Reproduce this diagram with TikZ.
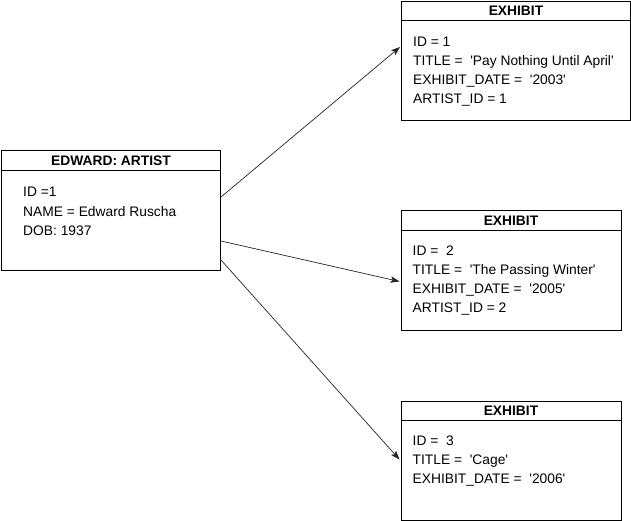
\documentclass[tikz,border=0pt]{standalone}
\usepackage{fontspec}
\setmainfont{Liberation Sans}[Ligatures=TeXOff]
\usetikzlibrary{arrows.meta,calc}
\begin{document}
\begin{tikzpicture}[x=1pt,y=-1pt,
  box/.style={draw=black,line width=1pt,anchor=north west,inner sep=0pt},
  head/.style={font=\fontsize{13.8}{16}\selectfont\bfseries,anchor=base,inner sep=0pt},
  txt/.style={font=\fontsize{13.8}{16}\selectfont,anchor=base west,inner sep=0pt},
  sep/.style={line width=1pt},
  conn/.style={-{Stealth[length=9pt,width=6.5pt,inset=2pt]},line width=0.7pt,draw=black!85}]
\useasboundingbox (0,0) rectangle (631,521);
% artist
\node[box,minimum width=219pt,minimum height=120pt] (art) at (1,150) {};
\draw[sep] ($(art.north west)+(0,21)$) -- ($(art.north east)+(0,21)$);
\node[head] (arth) at ($(art.north)+(0,16)$) {EDWARD: ARTIST};
\node[txt] (art1) at ($(art.north west)+(22,47)$) {ID =1};
\node[txt] (art2) at ($(art.north west)+(22,66.5)$) {NAME = Edward Ruscha};
\node[txt] (art3) at ($(art.north west)+(22,86)$) {DOB: 1937};
% exhibit 1
\node[box,minimum width=229pt,minimum height=119pt] (ex1) at (401,1) {};
\draw[sep] ($(ex1.north west)+(0,19.5)$) -- ($(ex1.north east)+(0,19.5)$);
\node[head] (ex1h) at ($(ex1.north)+(0,15)$) {EXHIBIT};
\node[txt] (ex1a) at ($(ex1.north west)+(12,45.5)$) {ID = 1};
\node[txt] (ex1b) at ($(ex1.north west)+(12,64.5)$) {TITLE =\ \ 'Pay Nothing Until April'};
\node[txt] (ex1c) at ($(ex1.north west)+(12,83.5)$) {EXHIBIT\_DATE =\ \ '2003'};
\node[txt] (ex1d) at ($(ex1.north west)+(12,102.5)$) {ARTIST\_ID = 1};
% exhibit 2
\node[box,minimum width=220pt,minimum height=119.5pt] (ex2) at (400.5,210.5) {};
\draw[sep] ($(ex2.north west)+(0,20)$) -- ($(ex2.north east)+(0,20)$);
\node[head] (ex2h) at ($(ex2.north)+(0,15)$) {EXHIBIT};
\node[txt] (ex2a) at ($(ex2.north west)+(12,45)$) {ID =\ \ 2};
\node[txt] (ex2b) at ($(ex2.north west)+(12,64)$) {TITLE =\ \ 'The Passing Winter'};
\node[txt] (ex2c) at ($(ex2.north west)+(12,83)$) {EXHIBIT\_DATE =\ \ '2005'};
\node[txt] (ex2d) at ($(ex2.north west)+(12,102)$) {ARTIST\_ID = 2};
% exhibit 3
\node[box,minimum width=220pt,minimum height=119pt] (ex3) at (400.5,400.5) {};
\draw[sep] ($(ex3.north west)+(0,20)$) -- ($(ex3.north east)+(0,20)$);
\node[head] (ex3h) at ($(ex3.north)+(0,15)$) {EXHIBIT};
\node[txt] (ex3a) at ($(ex3.north west)+(12,45)$) {ID =\ \ 3};
\node[txt] (ex3b) at ($(ex3.north west)+(12,64)$) {TITLE =\ \ 'Cage'};
\node[txt] (ex3c) at ($(ex3.north west)+(12,83)$) {EXHIBIT\_DATE =\ \ '2006'};
% connectors
\draw[conn] ($(art.north east)+(0,47)$) -- ($(ex1.north west)+(-1,46)$);
\draw[conn] ($(art.north east)+(0,91)$) -- ($(ex2.north west)+(-1,71)$);
\draw[conn] ($(art.north east)+(0,110)$) -- ($(ex3.north west)+(-1,59)$);
\end{tikzpicture}
\end{document}
